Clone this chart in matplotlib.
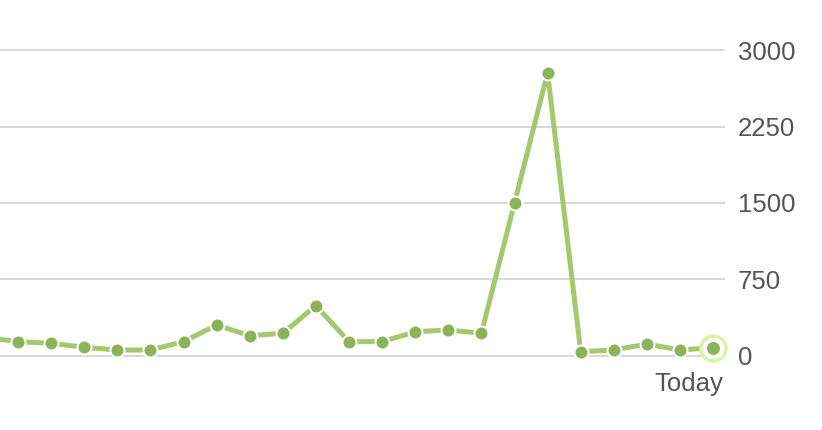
import matplotlib
matplotlib.use("Agg")
import matplotlib.pyplot as plt
import numpy as np

plt.rcParams['font.family'] = ['Liberation Sans', 'DejaVu Sans']

# Data (one point per day, the first one lies just off the left edge)
values = [180, 136, 120, 81, 54, 54, 136, 300, 195, 219, 490, 136, 136, 234,
          251, 219, 1500, 2780, 37, 54, 113, 54, 77]
positions = list(range(-1, len(values) - 1))
y_ticks = [0, 750, 1500, 2250, 3000]
y_tick_labels = ["0", "750", "1500", "2250", "3000"]
x_label_text = "Today"

LINE_COLOR = "#a3c86d"
DOT_COLOR = "#8db35a"
HALO_COLOR = "#d6f5a6"
GRID_COLOR = "#cccccc"
TEXT_COLOR = "#555555"

W, H, DPI = 822, 430, 100
fig = plt.figure(figsize=(W / DPI, H / DPI), dpi=DPI)

# axes spans pixels x 0..725, y 30..370
ax = fig.add_axes([0, (H - 370) / H, 725 / W, 340 / H])
px_per_unit = 305.0 / 3000
ax.set_ylim(-(370 - 355.5) / px_per_unit, (355.5 - 30) / px_per_unit)
ax.set_xlim(-18 / 33.1, (725 - 18) / 33.1)

pt = 72.0 / DPI  # points per pixel

ax.plot(positions, values, color=LINE_COLOR, lw=5 * pt, solid_capstyle='butt',
        zorder=3)
ax.plot(positions, values, ls='none', marker='o', ms=14 * pt,
        mfc=DOT_COLOR, mec='white', mew=2 * pt, zorder=4)

# highlighted last point
ax.plot([positions[-1]], [values[-1]], ls='none', marker='o', ms=25 * pt,
        mfc='white', mec=HALO_COLOR, mew=3.5 * pt, zorder=5, clip_on=False)
ax.plot([positions[-1]], [values[-1]], ls='none', marker='o', ms=13 * pt,
        mfc=DOT_COLOR, mec='none', zorder=6, clip_on=False)

ax.set_yticks(y_ticks)
ax.set_yticklabels(y_tick_labels)
ax.yaxis.tick_right()
ax.tick_params(axis='y', length=0, pad=13 * pt, labelsize=18.5, labelcolor=TEXT_COLOR)
ax.set_xticks([])
for s in ax.spines.values():
    s.set_visible(False)
ax.grid(axis='y', color=GRID_COLOR, lw=1.5 * pt)
ax.set_axisbelow(True)

fig.text(723 / W, 1 - 391 / H, x_label_text, ha='right', va='baseline',
         fontsize=18.5, color=TEXT_COLOR)

fig.savefig("out.png", dpi=DPI, facecolor='white')
